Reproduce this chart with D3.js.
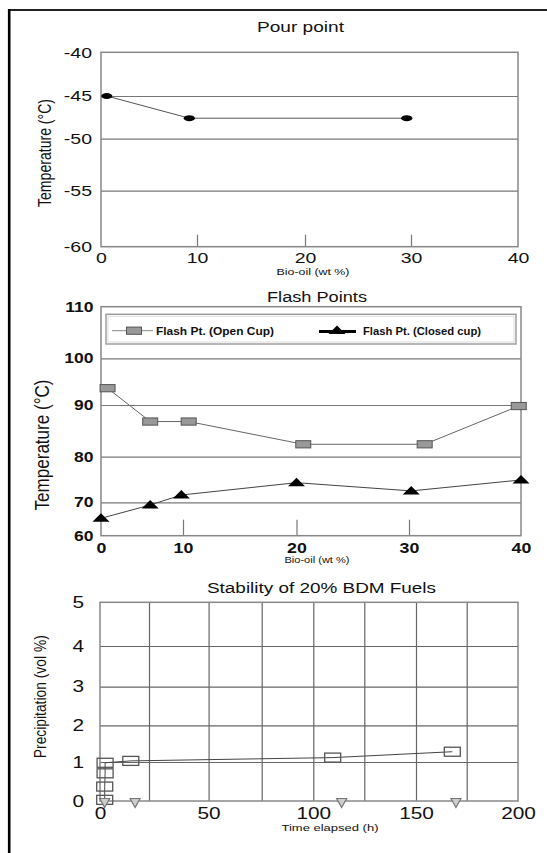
<!DOCTYPE html>
<html>
<head>
<meta charset="utf-8">
<script src="https://cdn.jsdelivr.net/npm/d3@7"></script>
<style>
body{margin:0;background:#fff;}
svg text{font-family:"Liberation Sans",Arial,Helvetica,sans-serif;fill:#111;}
</style>
</head>
<body>
<svg id="fig" width="547" height="853"></svg>
<script>
// ---- data ----
let pourX = [0.6, 9.2, 29.6];
let pourY = [-45, -47.6, -47.6];
let pourTicksY = [-60, -55, -50, -45, -40];
let bioTicks = [0, 10, 20, 30, 40];

let openX = [0.8, 6, 10.5, 20.6, 31.4, 39.8];
let openY = [93.6, 86.8, 86.8, 82.4, 82.4, 89.8];
let closedX = [0, 6, 9.8, 20, 30.2, 40];
let closedY = [65.2, 69.2, 71.6, 74.3, 72.5, 74.9];
let flashTicksY = [60, 70, 80, 90, 100, 110];
let legendNames = ['Flash Pt. (Open Cup)', 'Flash Pt. (Closed cup)'];

let stabSqX = [2.4, 2.4, 2.6, 2.6, 15.7, 109.5, 167.9];
let stabSqY = [0.03, 0.37, 0.71, 0.98, 1.03, 1.12, 1.28];
let stabTriX = [2.4, 17.9, 113.9, 169.7];
let stabTriY = [0, 0, 0, 0];
let timeTicks = [0, 50, 100, 150, 200];
let timeGrid = [25, 50, 75, 100, 125, 150, 175];
let precTicks = [0, 1, 2, 3, 4, 5];

const svg = d3.select('#fig');
const plain = d => String(d); // keep the ascii hyphen for negatives

// the source picture is stretched sideways, so text is too
function stretch(sel, k){
    sel.each(function(){
        let w = this.getComputedTextLength();
        d3.select(this).attr('textLength', w * k).attr('lengthAdjust', 'spacingAndGlyphs');
    });
}
function label(x, y, txt, size, len, weight){
    return svg.append('text')
        .attr('x', x).attr('y', y)
        .attr('text-anchor', 'middle')
        .attr('font-size', size)
        .attr('font-weight', weight || 'normal')
        .attr('textLength', len).attr('lengthAdjust', 'spacingAndGlyphs')
        .text(txt);
}
function ylabel(x, y, txt, size, len){
    svg.append('text')
        .attr('transform', `translate(${x},${y}) rotate(-90) scale(1,1.25)`)
        .attr('text-anchor', 'middle')
        .attr('dominant-baseline', 'central')
        .attr('font-size', size)
        .attr('textLength', len).attr('lengthAdjust', 'spacingAndGlyphs')
        .text(txt);
}
function grid(axis, tx, ty, color, w){
    let g = svg.append('g').attr('transform', `translate(${tx},${ty})`).call(axis);
    g.select('.domain').remove();
    g.selectAll('line').attr('stroke', color).attr('stroke-width', w);
    return g;
}
function ticks(axis, tx, ty, size, weight, k){
    let g = svg.append('g').attr('transform', `translate(${tx},${ty})`).call(axis.tickFormat(plain));
    g.select('.domain').remove();
    g.selectAll('line').remove();
    g.selectAll('text').attr('font-size', size).attr('font-weight', weight).attr('fill', '#111')
        .attr('font-family', '"Liberation Sans",Arial,sans-serif');
    stretch(g.selectAll('text'), k);
    return g;
}

// outer frame
svg.append('line').attr('x1', 8).attr('x2', 547).attr('y1', 10).attr('y2', 10)
    .attr('stroke', '#222').attr('stroke-width', 2);
svg.append('line').attr('x1', 9.2).attr('x2', 9.2).attr('y1', 9).attr('y2', 853)
    .attr('stroke', '#000').attr('stroke-width', 2.6);

// ================= Pour point =================
let x1 = d3.scaleLinear().domain(bioTicks).range([101, 197, 305, 411, 518]);
let y1 = d3.scaleLinear().domain(pourTicksY).range([246.7, 190.7, 138.7, 96, 52.3]);

grid(d3.axisLeft(y1).tickValues([-55, -50, -45]).tickSize(-(518 - 101)).tickFormat(''), 101, 0, '#777', 1.2);
grid(d3.axisBottom(x1).tickValues([10, 20, 30]).tickSize(-12).tickFormat(''), 0, 246.7, '#777', 1.2);
svg.append('rect').attr('x', 101).attr('y', 52.3).attr('width', 417).attr('height', 246.7 - 52.3)
    .attr('fill', 'none').attr('stroke', '#888').attr('stroke-width', 1.5);

ticks(d3.axisLeft(y1).tickValues(pourTicksY).tickSize(0).tickPadding(9), 101, 0, 15, 'normal', 1.3);
ticks(d3.axisBottom(x1).tickValues(bioTicks).tickSize(0).tickPadding(5.6), 0, 246.7, 15, 'normal', 1.3);

let pour = d3.zip(pourX, pourY);
svg.append('path').datum(pour)
    .attr('d', d3.line().x(d => x1(d[0])).y(d => y1(d[1])))
    .attr('fill', 'none').attr('stroke', '#555').attr('stroke-width', 1);
svg.selectAll('.pp').data(pour).enter().append('ellipse')
    .attr('cx', d => x1(d[0])).attr('cy', d => y1(d[1]))
    .attr('rx', 5.6).attr('ry', 3).attr('fill', '#000');

label(300.5, 31.7, 'Pour point', 15, 87);
label(313, 275, 'Bio-oil (wt %)', 9, 73);
ylabel(45, 153, 'Temperature (°C)', 14, 108);

// ================= Flash points =================
let x2 = d3.scaleLinear().domain(bioTicks).range([101, 183, 296.5, 409, 521]);
let y2 = d3.scaleLinear().domain(flashTicksY).range([535.7, 502.3, 456.7, 405, 358.3, 306.7]);

grid(d3.axisLeft(y2).tickValues([70, 80, 90, 100]).tickSize(-(521 - 101)).tickFormat(''), 101, 0, '#777', 1.2);
grid(d3.axisBottom(x2).tickValues([10, 20, 30]).tickSize(-16).tickFormat(''), 0, 535.7, '#777', 1.2);
svg.append('rect').attr('x', 101).attr('y', 306.7).attr('width', 420).attr('height', 535.7 - 306.7)
    .attr('fill', 'none').attr('stroke', '#888').attr('stroke-width', 1.5);

ticks(d3.axisLeft(y2).tickValues(flashTicksY).tickSize(0).tickPadding(7.5), 101, 0, 14, 'bold', 1.25);
ticks(d3.axisBottom(x2).tickValues(bioTicks).tickSize(0).tickPadding(7.6), 0, 535.7, 14, 'bold', 1.27);

let open = d3.zip(openX, openY);
let closed = d3.zip(closedX, closedY);
let line2 = d3.line().x(d => x2(d[0])).y(d => y2(d[1]));
svg.append('path').datum(open).attr('d', line2)
    .attr('fill', 'none').attr('stroke', '#666').attr('stroke-width', 1);
svg.append('path').datum(closed).attr('d', line2)
    .attr('fill', 'none').attr('stroke', '#444').attr('stroke-width', 1);

let triUp = 'M0,-5L8.5,3.5L-8.5,3.5Z';
svg.selectAll('.oc').data(open).enter().append('rect')
    .attr('x', d => x2(d[0]) - 7.5).attr('y', d => y2(d[1]) - 3.6)
    .attr('width', 15).attr('height', 7.2)
    .attr('fill', '#999').attr('stroke', '#555').attr('stroke-width', 1);
svg.selectAll('.cc').data(closed).enter().append('path')
    .attr('transform', d => `translate(${x2(d[0])},${y2(d[1])})`)
    .attr('d', triUp).attr('fill', '#000');

// legend
svg.append('rect').attr('x', 106).attr('y', 314.3).attr('width', 410).attr('height', 29.7)
    .attr('fill', '#fff').attr('stroke', '#999').attr('stroke-width', 1.4);
svg.append('rect').attr('x', 108).attr('y', 316.3).attr('width', 406).attr('height', 25.7)
    .attr('fill', 'none').attr('stroke', '#ddd').attr('stroke-width', 1);
svg.append('line').attr('x1', 112).attr('x2', 153).attr('y1', 330.7).attr('y2', 330.7)
    .attr('stroke', '#888').attr('stroke-width', 1);
svg.append('rect').attr('x', 134 - 7.5).attr('y', 330.7 - 3.6).attr('width', 15).attr('height', 7.2)
    .attr('fill', '#999').attr('stroke', '#555').attr('stroke-width', 1);
svg.append('line').attr('x1', 319).attr('x2', 356).attr('y1', 331.5).attr('y2', 331.5)
    .attr('stroke', '#000').attr('stroke-width', 3);
svg.append('path').attr('transform', 'translate(337,330.5)').attr('d', triUp).attr('fill', '#000');
svg.selectAll('.lg').data(legendNames).enter().append('text')
    .attr('x', (d, i) => i == 0 ? 156 : 363).attr('y', 334.8)
    .attr('font-size', 10.5).attr('font-weight', 'bold')
    .attr('textLength', 118).attr('lengthAdjust', 'spacingAndGlyphs')
    .text(d => d);

label(317, 301.5, 'Flash Points', 15.5, 100);
label(317, 563, 'Bio-oil (wt %)', 9, 65);
ylabel(42, 445, 'Temperature (°C)', 16.8, 131);

// ================= Stability =================
let x3 = d3.scaleLinear().domain([0, 25, 50, 75, 100, 125, 150, 175, 200])
    .range([100, 149, 208.6, 261.7, 313.3, 364.3, 416, 466.7, 518]);
let y3 = d3.scaleLinear().domain(precTicks).range([801, 762, 725.3, 686.7, 646, 602.3]);

grid(d3.axisLeft(y3).tickValues([1, 2, 3, 4]).tickSize(-(518 - 100)).tickFormat(''), 100, 0, '#666', 1.2);
grid(d3.axisBottom(x3).tickValues(timeGrid).tickSize(-(801 - 602.3)).tickFormat(''), 0, 801, '#666', 1.2);
svg.append('rect').attr('x', 100).attr('y', 602.3).attr('width', 418).attr('height', 801 - 602.3)
    .attr('fill', 'none').attr('stroke', '#888').attr('stroke-width', 1.5);

ticks(d3.axisLeft(y3).tickValues(precTicks).tickSize(0).tickPadding(16), 100, 0, 16, 'normal', 1.3);
ticks(d3.axisBottom(x3).tickValues(timeTicks).tickSize(0).tickPadding(6.5), 0, 801, 16, 'normal', 1.3);

let sq = d3.zip(stabSqX, stabSqY);
let tri = d3.zip(stabTriX, stabTriY);
svg.append('path').datum(sq)
    .attr('d', d3.line().x(d => x3(d[0])).y(d => y3(d[1])))
    .attr('fill', 'none').attr('stroke', '#444').attr('stroke-width', 1);
svg.selectAll('.sq').data(sq).enter().append('rect')
    .attr('x', d => x3(d[0]) - 8).attr('y', d => y3(d[1]) - 4.5)
    .attr('width', 16).attr('height', 9)
    .attr('fill', 'none').attr('stroke', '#555').attr('stroke-width', 1.3);
svg.selectAll('.tr').data(tri).enter().append('path')
    .attr('transform', d => `translate(${x3(d[0])},${y3(d[1]) + 1.5})`)
    .attr('d', 'M-5,-4L5,-4L0,5Z')
    .attr('fill', '#ccc').attr('stroke', '#777').attr('stroke-width', 1.2);

label(321.5, 593, 'Stability of 20% BDM Fuels', 15.5, 229);
label(330, 830.5, 'Time elapsed (h)', 9.5, 97);
ylabel(40, 696.7, 'Precipitation (vol %)', 13.8, 123);
</script>
</body>
</html>
